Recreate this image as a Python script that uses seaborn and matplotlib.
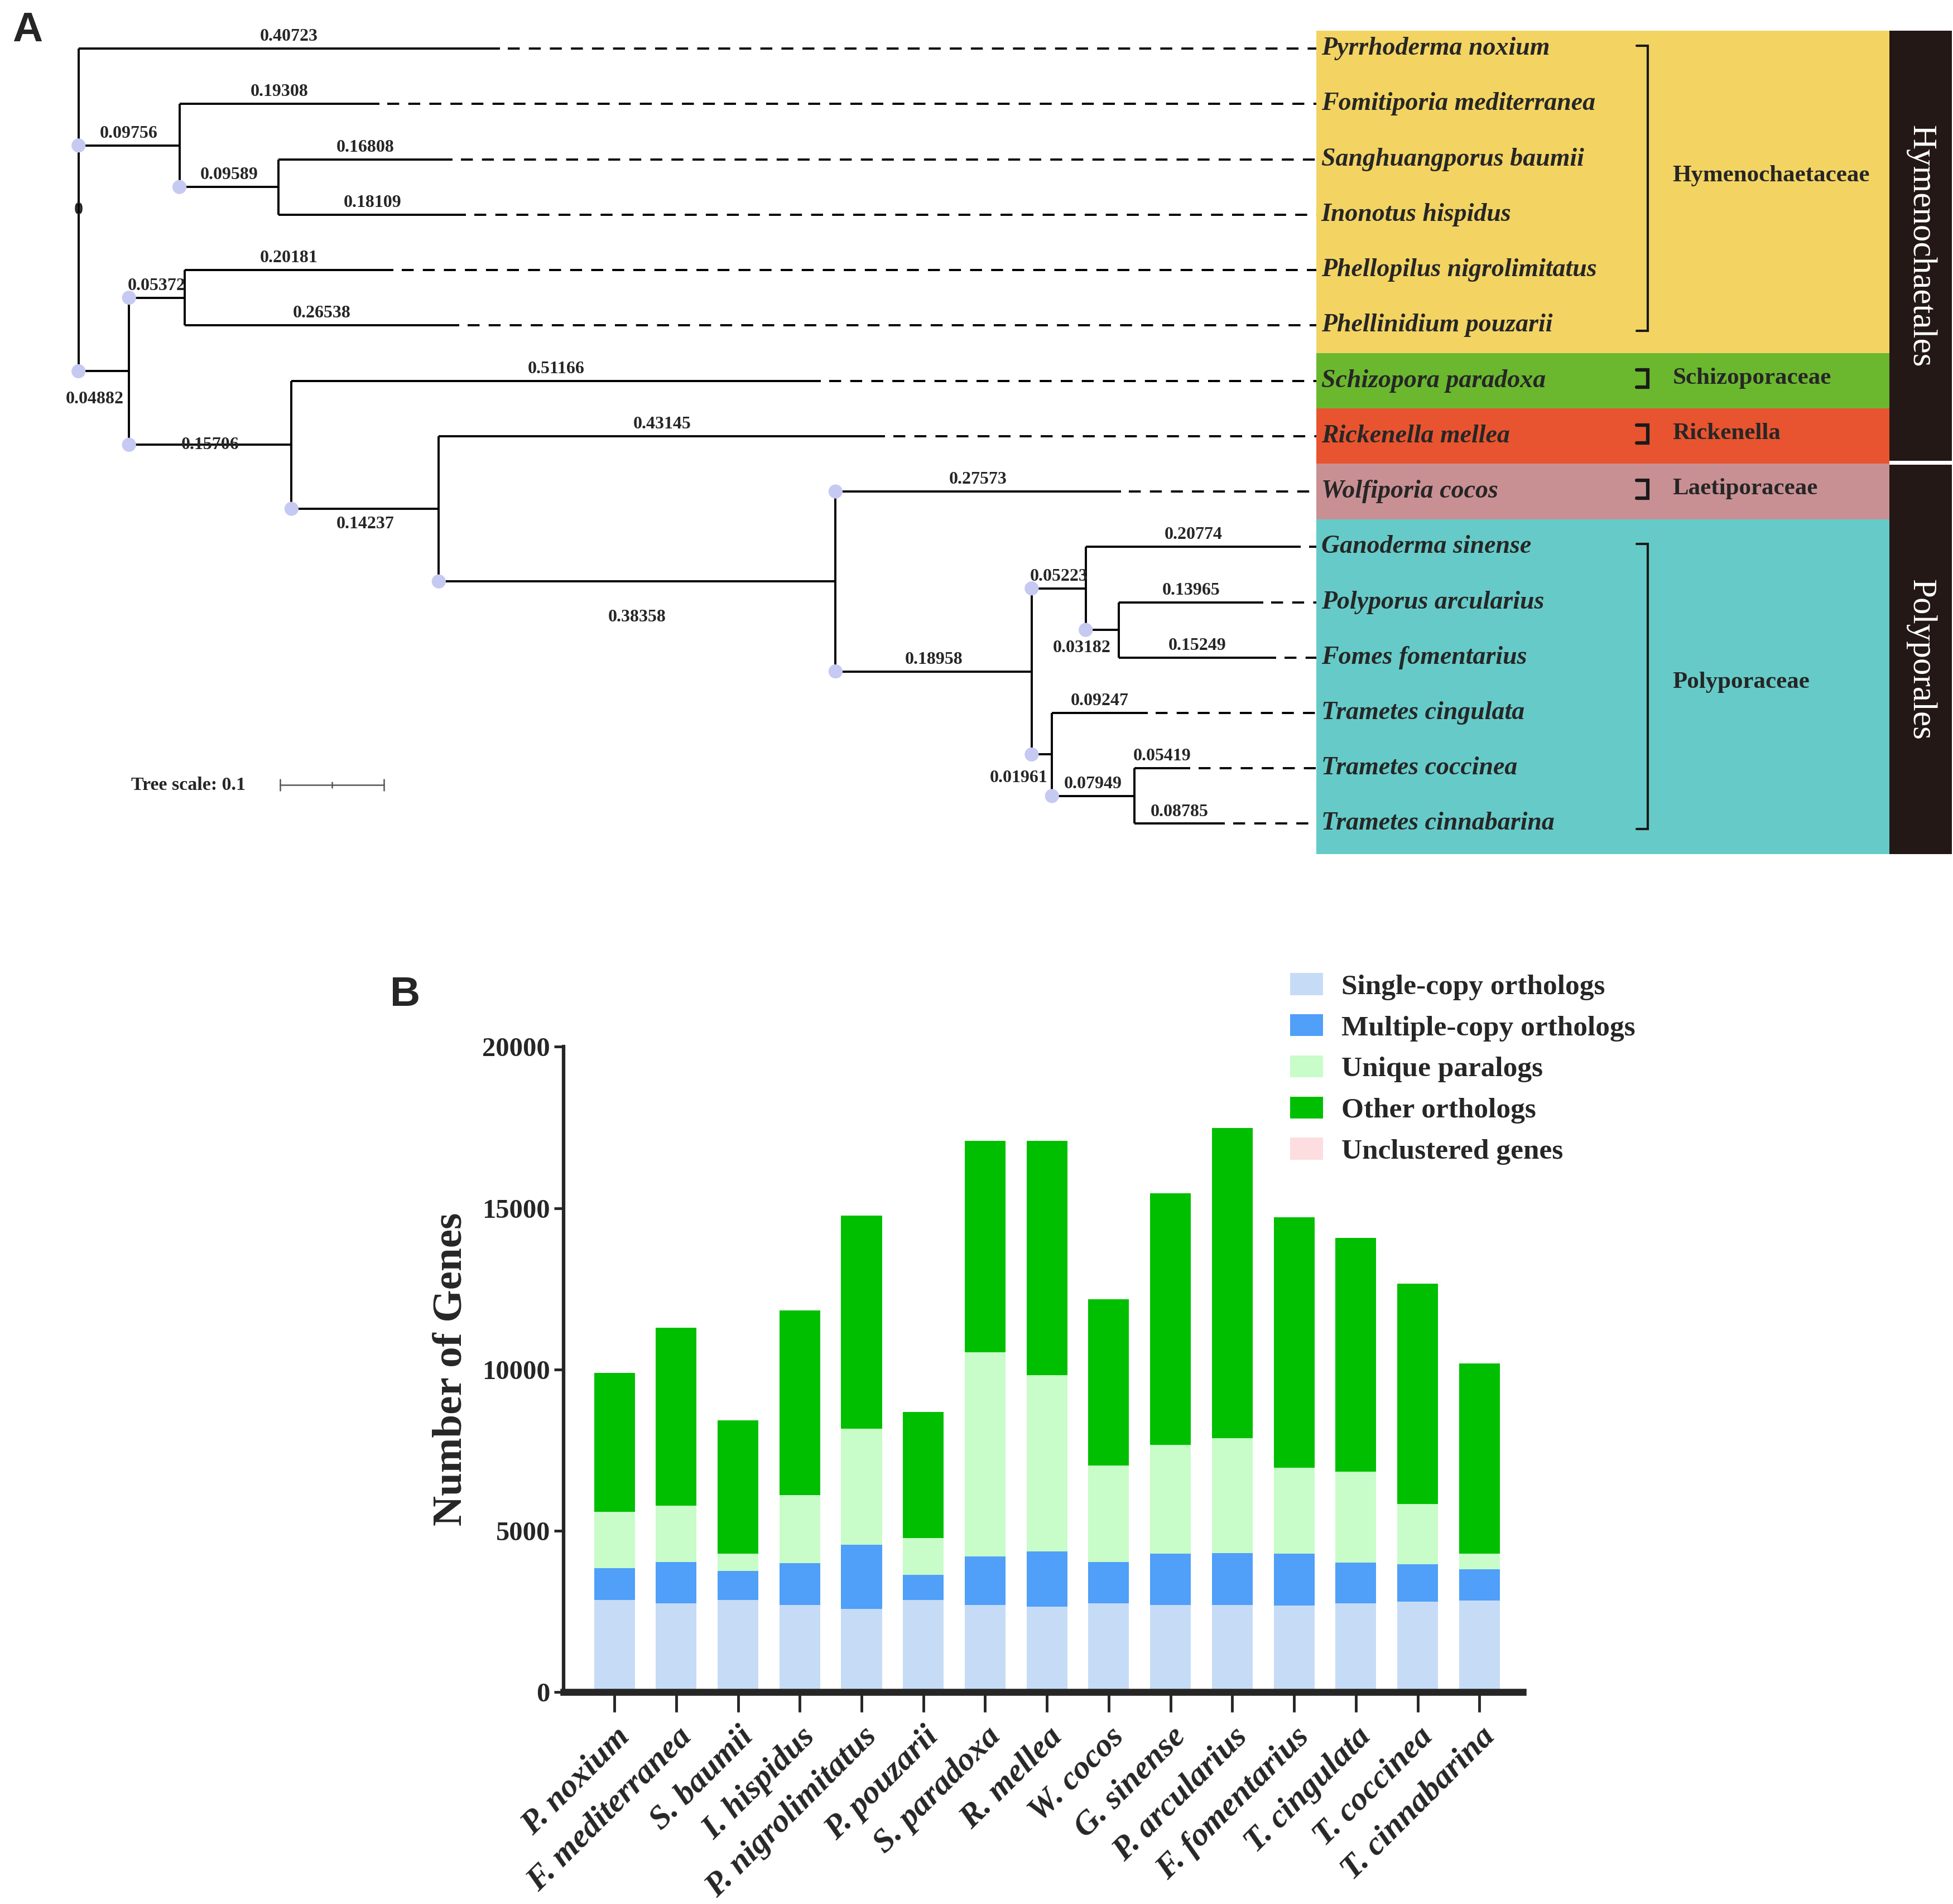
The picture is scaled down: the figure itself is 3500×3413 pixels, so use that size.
import numpy as np
import pandas as pd
import matplotlib
matplotlib.use("Agg")
import matplotlib.pyplot as plt
from matplotlib.patches import Rectangle, Patch
import seaborn as sns

# --- Painel A: árvore filogenética ---
tip_names = ['Pyrrhoderma noxium', 'Fomitiporia mediterranea', 'Sanghuangporus baumii',
             'Inonotus hispidus', 'Phellopilus nigrolimitatus', 'Phellinidium pouzarii',
             'Schizopora paradoxa', 'Rickenella mellea', 'Wolfiporia cocos',
             'Ganoderma sinense', 'Polyporus arcularius', 'Fomes fomentarius',
             'Trametes cingulata', 'Trametes coccinea', 'Trametes cinnabarina']

# arestas (filho, pai, comprimento) em ordem topológica
edge_child = ['Pyrrhoderma noxium', 'n1', 'n2', 'Fomitiporia mediterranea', 'n3',
              'Sanghuangporus baumii', 'Inonotus hispidus', 'n4', 'n5',
              'Phellopilus nigrolimitatus', 'Phellinidium pouzarii', 'Schizopora paradoxa', 'n6',
              'Rickenella mellea', 'n7', 'Wolfiporia cocos', 'n8', 'n9', 'n10',
              'Ganoderma sinense', 'n11', 'Polyporus arcularius', 'Fomes fomentarius',
              'Trametes cingulata', 'n12', 'Trametes coccinea', 'Trametes cinnabarina']
edge_parent = ['n0', 'n0', 'n0', 'n1', 'n1', 'n3', 'n3', 'n2', 'n2', 'n4', 'n4', 'n5', 'n5',
               'n6', 'n6', 'n7', 'n7', 'n8', 'n8', 'n9', 'n9', 'n11', 'n11', 'n10', 'n10',
               'n12', 'n12']
edge_length = [0.40723, 0.09756, 0.04882, 0.19308, 0.09589, 0.16808, 0.18109, 0.05372,
               0.15706, 0.20181, 0.26538, 0.51166, 0.14237, 0.43145, 0.38358, 0.27573,
               0.18958, 0.05223, 0.01961, 0.20774, 0.03182, 0.13965, 0.15249, 0.09247,
               0.07949, 0.05419, 0.08785]
root_length = 0

families = ['Hymenochaetaceae', 'Schizoporaceae', 'Rickenella', 'Laetiporaceae', 'Polyporaceae']
family_sizes = [6, 1, 1, 1, 6]
family_colors = ['#F3D462', '#6BB82F', '#E8542F', '#C99093', '#66CBC8']
orders = ['Hymenochaetales', 'Polyporales']
order_sizes = [8, 7]
tree_scale = 0.1

# --- Painel B: ortólogos ---
species_short = ['P. noxium', 'F. mediterranea', 'S. baumii', 'I. hispidus', 'P. nigrolimitatus',
                 'P. pouzarii', 'S. paradoxa', 'R. mellea', 'W. cocos', 'G. sinense',
                 'P. arcularius', 'F. fomentarius', 'T. cingulata', 'T. coccinea', 'T. cinnabarina']
single_copy = [2850, 2745, 2850, 2695, 2575, 2865, 2710, 2650, 2760, 2710, 2710, 2680, 2760, 2805, 2835]
multiple_copy = [990, 1280, 910, 1310, 2000, 770, 1495, 1710, 1280, 1575, 1600, 1605, 1250, 1155, 970]
unique_paralogs = [1755, 1755, 525, 2095, 3590, 1140, 6335, 5470, 2990, 3375, 3560, 2665, 2820, 1865, 480]
other_orthologs = [4300, 5515, 4145, 5730, 6595, 3900, 6535, 7255, 5145, 7795, 9615, 7765, 7240, 6825, 5900]
unclustered = [0, 0, 0, 0, 0, 0, 0, 0, 0, 0, 0, 0, 0, 0, 0]
layer_labels = ['Single-copy orthologs', 'Multiple-copy orthologs', 'Unique paralogs',
                'Other orthologs', 'Unclustered genes']
layer_colors = ['#C6DCF6', '#509FF8', '#C8FCC8', '#00BF00', '#FDDDE0']

sns.set_style("ticks")
plt.rcParams['font.family'] = ['Liberation Serif', 'DejaVu Serif']

fig = plt.figure(figsize=(35, 34.13), dpi=100)

# escala: 1 unidade de ramo = 830 px de tela (1567 px de largura)
ax_t = fig.add_axes([0, 1 - 700 / 1528, 1, 700 / 1528])
ax_t.set_xlim(-63 / 830, (1567 - 63) / 830)
ax_t.set_ylim((700 - 39) / 44.43, -39 / 44.43)
ax_t.axis('off')

px = {'n0': 0.0}
for c, p, L in zip(edge_child, edge_parent, edge_length):
    px[c] = px[p] + L
children = {}
for c, p in zip(edge_child, edge_parent):
    children.setdefault(p, []).append(c)
py = {t: i for i, t in enumerate(tip_names)}


def get_y(n):
    if n not in py:
        ys = [get_y(c) for c in children[n]]
        py[n] = (min(ys) + max(ys)) / 2
    return py[n]


get_y('n0')

LW = 2.8
LABEL_X = (1056 - 63) / 830
BAND_END = (1516 - 63) / 830
ORDER_END = (1566 - 63) / 830

# faixas coloridas por família
start = 0
for fam, n, col in zip(families, family_sizes, family_colors):
    top = start - 0.32 if start == 0 else start - 0.5
    bot = start + n - 1 + (0.55 if start + n == len(tip_names) else 0.5)
    ax_t.add_patch(Rectangle((LABEL_X, top), BAND_END - LABEL_X, bot - top, color=col, lw=0))
    x_br = 1.517
    if n > 1:
        y0, y1 = start - 0.05, start + n - 1 + 0.1
        lw_br = 3
    else:
        y0, y1 = start - 0.2, start + 0.12
        lw_br = 4.5
    ax_t.plot([x_br - 0.011, x_br, x_br, x_br - 0.011], [y0, y0, y1, y1], color='#1a1a1a',
              lw=lw_br, solid_joinstyle='miter')
    ax_t.text(1.541, start + (n - 1) / 2 - (0.2 if n > 1 and start == 0 else 0.05), fam,
              fontsize=31, fontweight='bold', va='center', ha='left')
    start += n

start = 0
for order, n in zip(orders, order_sizes):
    top = start - 0.32 if start == 0 else start - 0.48
    bot = start + n - 1 + (0.55 if start + n == len(tip_names) else 0.45)
    ax_t.add_patch(Rectangle((BAND_END, top), ORDER_END - BAND_END, bot - top, color='#231815', lw=0))
    ax_t.text((BAND_END + ORDER_END) / 2, (top + bot) / 2, order, rotation=270, color='white',
              fontsize=44, ha='center', va='center')
    start += n

# ramos
for c, p in zip(edge_child, edge_parent):
    ax_t.plot([px[p], px[c]], [py[c], py[c]], color='black', lw=LW, solid_capstyle='butt')
for n, ch in children.items():
    ys = [py[c] for c in ch]
    ax_t.plot([px[n], px[n]], [min(ys), max(ys)], color='black', lw=LW, solid_capstyle='butt')

# linhas tracejadas e nomes das espécies
for t in tip_names:
    if px[t] < LABEL_X - 0.005:
        ax_t.plot([px[t] + 0.008, LABEL_X], [py[t], py[t]], color='black', lw=LW,
                  linestyle=(0, (5.5, 4.2)))
    ax_t.text(LABEL_X + 0.005, py[t], t, fontsize=33, fontstyle='italic', fontweight='bold',
              va='center', ha='left')

# pontos nos nós
dot_x, dot_y = [], []
for c, p in zip(edge_child, edge_parent):
    if c in children or c == 'Wolfiporia cocos':
        dot_x.append(px[p])
        dot_y.append(py[c])
sns.scatterplot(x=dot_x, y=dot_y, ax=ax_t, color='#C6C9F2', s=330, edgecolor='none', zorder=5)

# rótulos dos comprimentos dos ramos
special = {'n2': ('frac', 0.32, 0.5), 'n5': ('mid', 0, 0.0), 'n6': ('mid', 0, 0.28),
           'n7': ('mid', 0, 0.65), 'n11': ('parent', -0.004, 0.33),
           'n10': ('right', -0.004, 0.42)}
for c, p, L in zip(edge_child, edge_parent, edge_length):
    lab = f'{L:.5f}'
    if c in special:
        kind, dx, dy = special[c]
        if kind == 'frac':
            ax_t.text(px[p] + L * dx, py[c] + dy, lab, fontsize=23, fontweight='bold',
                      ha='center', va='center')
        elif kind == 'mid':
            ax_t.text((px[p] + px[c]) / 2, py[c] + dy, lab, fontsize=23, fontweight='bold',
                      ha='center', va='center')
        elif kind == 'parent':
            ax_t.text(px[p] + dx, py[c] + dy, lab, fontsize=23, fontweight='bold',
                      ha='center', va='center')
        else:
            ax_t.text(px[c] + dx, py[c] + dy, lab, fontsize=23, fontweight='bold',
                      ha='right', va='center')
    else:
        ax_t.text((px[p] + px[c]) / 2, py[c] - 0.07, lab, fontsize=23, fontweight='bold',
                  ha='center', va='bottom')
ax_t.text(px['n0'], py['n0'], str(root_length), fontsize=23, fontweight='bold',
          ha='center', va='center')

# escala da árvore
sb_x0, sb_y = 0.195, 13.3
ax_t.text(0.0506, sb_y, f'Tree scale: {tree_scale}', fontsize=24.5, fontweight='bold',
          ha='left', va='center')
ax_t.plot([sb_x0, sb_x0 + tree_scale], [sb_y, sb_y], color='#555555', lw=1.8)
for f, h in zip([0, 0.5, 1], [0.1, 0.05, 0.1]):
    ax_t.plot([sb_x0 + f * tree_scale] * 2, [sb_y - h, sb_y + h], color='#555555', lw=1.8)

fig.text(0.0064, 0.994, 'A', fontsize=54, fontweight='bold', family='Liberation Sans',
         ha='left', va='top')

# --- Painel B: barras empilhadas ---
ax_b = fig.add_axes([452 / 1567, 1 - 1358 / 1528, 770 / 1567, (1358 - 840) / 1528])
layers = [single_copy, multiple_copy, unique_paralogs, other_orthologs, unclustered]
cums = np.cumsum(np.array(layers), axis=0)
for top, col in reversed(list(zip(cums, layer_colors))):
    sns.barplot(x=species_short, y=top, order=species_short, color=col, saturation=1,
                width=0.66, errorbar=None, edgecolor='none', linewidth=0, ax=ax_b)

ax_b.set_xlim(-0.827, 14.706)
ax_b.set_ylim(0, 20000)
ax_b.set_yticks([0, 5000, 10000, 15000, 20000])
ax_b.set_yticklabels(['0', '5000', '10000', '15000', '20000'], fontsize=35, fontweight='bold')
ax_b.set_xticks(range(len(species_short)))
ax_b.set_xticklabels(species_short, rotation=45, ha='right', rotation_mode='anchor',
                     fontsize=43, fontstyle='italic', fontweight='bold')
ax_b.tick_params(axis='x', length=26, width=3.5, pad=12)
ax_b.tick_params(axis='y', length=12, width=3.5, pad=5)
ax_b.set_xlabel('')
ax_b.set_ylabel('Number of Genes', fontsize=54, fontweight='bold')
ax_b.yaxis.set_label_coords(-0.097, 0.5)
sns.despine(ax=ax_b)
ax_b.spines['left'].set_linewidth(4.5)
ax_b.spines['bottom'].set_linewidth(9)

handles = [Patch(facecolor=c, edgecolor='none', label=l) for l, c in zip(layer_labels, layer_colors)]
fig.legend(handles=handles, loc='upper left', bbox_to_anchor=(1035 / 1567, 1 - 781 / 1528),
           frameon=False, borderpad=0, borderaxespad=0, handlelength=1.15, handleheight=0.8,
           handletextpad=0.65, labelspacing=0.49,
           prop={'size': 37, 'weight': 'bold', 'family': 'Liberation Serif'})

fig.text(313 / 1567, 1 - 783 / 1528, 'B', fontsize=54, fontweight='bold', family='Liberation Sans',
         ha='left', va='top')

fig.savefig('out.png', dpi=100)
